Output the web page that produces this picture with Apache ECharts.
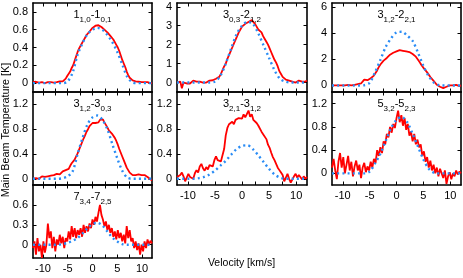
<!DOCTYPE html>
<html>
<head>
<meta charset="utf-8">
<script src="https://cdn.jsdelivr.net/npm/echarts@6/dist/echarts.min.js"></script>
<style>html,body{margin:0;padding:0;background:#fff}#c{width:463px;height:278px}</style>
</head>
<body>
<div id="c"></div>
<script>
// ---------- DATA ----------
const velocity = [-12,-11.7,-11.4,-11.1,-10.8,-10.5,-10.2,-9.9,-9.6,-9.3,-9,-8.7,-8.4,-8.1,-7.8,-7.5,-7.2,-6.9,-6.6,-6.3,-6,-5.7,-5.4,-5.1,-4.8,-4.5,-4.2,-3.9,-3.6,-3.3,-3,-2.7,-2.4,-2.1,-1.8,-1.5,-1.2,-0.9,-0.6,-0.3,0,0.3,0.6,0.9,1.2,1.5,1.8,2.1,2.4,2.7,3,3.3,3.6,3.9,4.2,4.5,4.8,5.1,5.4,5.7,6,6.3,6.6,6.9,7.2,7.5,7.8,8.1,8.4,8.7,9,9.3,9.6,9.9,10.2,10.5,10.8,11.1,11.4,11.7,12];
const modelVelocity = [-12,-11,-10,-9,-8,-7,-6,-5,-4,-3,-2,-1,0,1,2,3,4,5,6,7,8,9,10,11,12];

const obs_110_101 = [0.01,0.02,0.015,0.01,0.005,0.01,0.01,0.005,0.0,0.005,
 0.01,0.005,0.01,0.0,0.005,0.01,0.01,0.015,0.02,0.02,
 0.02,0.03,0.05,0.08,0.1,0.13,0.17,0.2,0.25,0.3,
 0.35,0.39,0.42,0.45,0.48,0.51,0.54,0.56,0.58,0.6,
 0.62,0.63,0.645,0.65,0.65,0.64,0.63,0.615,0.6,0.59,
 0.57,0.55,0.53,0.51,0.49,0.46,0.43,0.4,0.36,0.31,
 0.26,0.22,0.18,0.13,0.09,0.06,0.04,0.03,0.025,0.02,
 0.02,0.015,0.015,0.01,0.01,0.01,0.005,0.01,0.005,0.0,
 0.0];
const mod_110_101 = [0,0,0,0,0,0,0,0.02,0.12,0.32,0.45,0.55,0.6,0.62,0.6,0.54,0.46,0.35,0.21,0.07,0.01,0,0,0,0];

const obs_303_212 = [0.0,-0.1,0.05,-0.3,0.0,0.05,-0.05,0.0,-0.05,0.05,
 0.1,0.0,0.05,0.15,0.05,0.1,0.0,0.05,0.0,0.05,
 0.1,0.1,0.12,0.15,0.2,0.25,0.3,0.45,0.65,0.85,
 1.0,1.25,1.45,1.65,1.85,2.05,2.25,2.45,2.65,2.8,
 2.95,3.05,3.1,3.15,3.2,3.25,3.3,3.2,3.1,2.95,
 2.8,2.75,2.65,2.45,2.3,2.15,2.0,1.8,1.6,1.4,
 1.2,1.05,0.85,0.6,0.45,0.3,0.25,0.15,0.2,0.1,
 0.1,0.05,0.1,0.0,0.05,0.1,0.0,0.05,-0.05,0.05,
 0.1];
const mod_303_212 = [0,0,0,0,0,0,0,0.05,0.35,1.0,1.8,2.55,3.0,3.2,3.1,2.6,1.95,1.3,0.65,0.2,0.05,0,0,0,0];

const obs_312_221 = [0.0,0.05,0.0,0.05,0.0,-0.05,0.0,0.05,0.0,0.0,
 0.05,0.1,0.0,0.05,0.05,0.1,0.1,0.05,0.15,0.2,
 0.45,0.55,0.4,0.45,0.55,0.6,0.75,0.95,1.15,1.4,
 1.6,1.75,1.9,2.0,2.1,2.25,2.35,2.45,2.5,2.55,
 2.6,2.65,2.7,2.7,2.65,2.65,2.6,2.55,2.55,2.5,
 2.4,2.3,2.2,2.05,1.85,1.65,1.5,1.3,1.15,1.0,
 0.85,0.65,0.5,0.35,0.2,0.05,-0.05,-0.1,-0.15,-0.2,
 -0.15,-0.1,-0.05,0.0,-0.05,0.0,0.0,0.05,0.0,-0.05,
 0.0];
const mod_312_221 = [0,0,0,0,0,0,0.02,0.2,1.0,1.95,2.95,3.6,4.05,4.1,3.8,3.4,2.5,1.5,0.7,0.2,0.02,0,0,0,0];

const obs_312_303 = [0.0,0.02,0.01,0.03,0.0,0.02,0.04,0.02,0.03,0.01,
 0.04,0.03,0.05,0.04,0.06,0.05,0.08,0.1,0.07,0.09,
 0.12,0.1,0.14,0.17,0.16,0.21,0.25,0.27,0.31,0.36,
 0.41,0.47,0.53,0.59,0.65,0.7,0.76,0.8,0.85,0.88,
 0.9,0.92,0.9,0.93,0.91,0.95,0.98,0.96,0.91,0.87,
 0.83,0.78,0.75,0.73,0.7,0.66,0.61,0.55,0.48,0.42,
 0.36,0.3,0.24,0.18,0.14,0.1,0.07,0.06,0.04,0.06,
 0.05,0.07,0.05,0.06,0.08,0.06,0.05,0.03,0.02,-0.01,
 -0.03];
const mod_312_303 = [0,0,0,0,0,0,0.01,0.04,0.12,0.4,0.66,0.88,0.99,1.02,0.95,0.8,0.56,0.33,0.13,0.02,0,0,0,0,0];

const obs_321_312 = [0.03,0.0,0.06,0.1,0.04,-0.04,0.02,0.08,0.03,0.05,
 0.0,0.09,0.14,0.1,0.2,0.24,0.17,0.13,0.19,0.15,
 0.22,0.25,0.2,0.3,0.36,0.3,0.33,0.28,0.38,0.48,
 0.7,0.82,0.88,0.85,0.92,0.88,0.95,0.92,0.98,1.0,
 0.97,1.04,0.99,1.02,1.1,1.0,1.04,0.95,0.97,0.9,
 0.86,0.84,0.76,0.72,0.7,0.64,0.55,0.5,0.42,0.35,
 0.3,0.24,0.18,0.14,0.1,0.06,-0.04,0.02,0.08,0.0,
 -0.06,-0.09,0.04,0.08,0.02,0.06,0.03,-0.01,0.04,0.0,
 0.03];
const mod_321_312 = [0,0,0,0,0.01,0.03,0.07,0.13,0.21,0.29,0.39,0.48,0.53,0.54,0.48,0.38,0.27,0.16,0.07,0.02,0,0,0,0,0];

const obs_532_523 = [0.1,0.25,0.05,-0.1,0.2,0.35,0.1,0.28,0.0,0.15,
 0.3,0.05,0.2,-0.05,0.12,0.22,0.05,0.15,-0.08,0.1,
 0.18,0.02,0.12,0.05,0.2,0.1,0.25,0.18,0.4,0.3,
 0.45,0.35,0.55,0.5,0.68,0.62,0.8,0.7,0.85,0.78,
 0.95,1.08,0.88,1.0,0.82,0.95,0.75,0.85,0.65,0.72,
 0.55,0.68,0.5,0.58,0.45,0.5,0.3,0.38,0.2,0.28,
 0.1,0.22,0.05,0.15,0.0,0.1,-0.05,0.08,0.0,-0.08,
 0.05,-0.18,-0.05,0.02,-0.1,0.0,-0.05,0.05,-0.02,0.03,
 0.0];
const mod_532_523 = [0,0,0,0,0,0,0,0.03,0.17,0.34,0.56,0.78,0.92,0.97,0.88,0.68,0.46,0.24,0.08,0.01,0,0,0,0,0];

const obs_734_725 = [-0.05,0.05,-0.15,0.1,-0.1,0.0,-0.2,0.05,-0.12,0.0,
 0.32,0.1,0.2,-0.05,0.12,-0.1,0.08,0.0,0.15,0.02,
 0.12,-0.05,0.1,0.05,0.2,0.08,0.28,0.12,0.25,0.1,
 0.22,0.15,0.25,0.12,0.3,0.18,0.28,0.2,0.32,0.25,
 0.38,0.3,0.42,0.35,0.48,0.6,0.45,0.38,0.28,0.35,
 0.22,0.3,0.18,0.25,0.12,0.2,0.08,0.22,0.1,0.18,
 0.05,0.15,0.02,0.28,0.1,0.22,0.05,0.1,-0.05,0.05,
 -0.08,0.02,-0.15,0.0,-0.1,0.05,-0.05,0.08,0.0,0.06,
 0.02];
const mod_734_725 = [0,0,0,0,0,0,0.01,0.03,0.06,0.1,0.17,0.25,0.31,0.33,0.29,0.2,0.11,0.05,0.01,0,0,0,0,0,0];

// tick labels
const xTickLabels = [-10,-5,0,5,10];
const xTickMarks = [-10,-7.5,-5,-2.5,0,2.5,5,7.5,10];
const yLabels_110_101 = [0,0.2,0.4,0.6,0.8];
const yLabels_303_212 = [0,1,2,3,4];
const yLabels_312_221 = [0,2,4,6];
const yLabels_312_303 = [0,0.4,0.8,1.2];
const yLabels_321_312 = [0,0.4,0.8,1.2];
const yLabels_532_523 = [0,0.4,0.8,1.2];
const yLabels_734_725 = [0,0.3,0.6];

// transition labels: [upper, lowerSub, upper, lowerSub]
const title_110_101 = ['1','1,0','-1','0,1'];
const title_303_212 = ['3','0,3','-2','1,2'];
const title_312_221 = ['3','1,2','-2','2,1'];
const title_312_303 = ['3','1,2','-3','0,3'];
const title_321_312 = ['3','2,1','-3','1,2'];
const title_532_523 = ['5','3,2','-5','2,3'];
const title_734_725 = ['7','3,4','-7','2,5'];

const xTitle = 'Velocity [km/s]';
const yTitle = 'Main Beam Temperature [K]';

// ---------- LAYOUT ----------
const FONT = "'Liberation Sans', Arial, sans-serif";
const panels = [
  {t:title_110_101, o:obs_110_101, m:mod_110_101, y:[-0.1,0.9], yl:yLabels_110_101, box:[33,3,119,89], xl:false},
  {t:title_303_212, o:obs_303_212, m:mod_303_212, y:[-0.5,4.2], yl:yLabels_303_212, box:[177,3,130,89], xl:false},
  {t:title_312_221, o:obs_312_221, m:mod_312_221, y:[-0.5,6.3], yl:yLabels_312_221, box:[332,3,129,89], xl:false},
  {t:title_312_303, o:obs_312_303, m:mod_312_303, y:[-0.1,1.4], yl:yLabels_312_303, box:[33,92,119,93], xl:false},
  {t:title_321_312, o:obs_321_312, m:mod_321_312, y:[-0.1,1.4], yl:yLabels_321_312, box:[177,92,130,93], xl:true},
  {t:title_532_523, o:obs_532_523, m:mod_532_523, y:[-0.2,1.4], yl:yLabels_532_523, box:[332,92,129,93], xl:true},
  {t:title_734_725, o:obs_734_725, m:mod_734_725, y:[-0.2,0.9], yl:yLabels_734_725, box:[33,185,119,73], xl:true}
];

const grid=[], xAxis=[], yAxis=[], series=[], graphic=[];
const lineCol = '#000';
panels.forEach((p, i) => {
  const [l,t,w,h] = p.box;
  grid.push({left:l, top:t, width:w, height:h, show:false, containLabel:false});
  const xb = {type:'value', gridIndex:i, min:-12, max:12, splitLine:{show:false},
    axisLine:{show:true, onZero:false, lineStyle:{color:lineCol, width:1.6}},
    axisTick:{show:true, inside:true, length:3.5, customValues:xTickMarks, lineStyle:{color:lineCol, width:1}}};
  xAxis.push(Object.assign({}, xb, {position:'bottom',
    axisLabel:{show:p.xl, customValues:xTickLabels, margin:5, color:'#000', fontSize:11, fontFamily:FONT}}));
  xAxis.push(Object.assign({}, xb, {position:'top', axisLabel:{show:false}}));
  const yb = {type:'value', gridIndex:i, min:p.y[0], max:p.y[1], splitLine:{show:false},
    axisLine:{show:true, onZero:false, lineStyle:{color:lineCol, width:1.6}},
    axisTick:{show:true, inside:true, length:3.5, customValues:p.yl, lineStyle:{color:lineCol, width:1}}};
  yAxis.push(Object.assign({}, yb, {position:'left',
    axisLabel:{show:true, customValues:p.yl, margin:5, color:'#000', fontSize:11, fontFamily:FONT}}));
  yAxis.push(Object.assign({}, yb, {position:'right', axisLabel:{show:false}}));
  series.push({type:'line', xAxisIndex:2*i, yAxisIndex:2*i, showSymbol:false, animation:false,
    data: velocity.map((v,k)=>[v,p.o[k]]), lineStyle:{color:'#ff0000', width:1.8}, z:2});
  series.push({type:'line', xAxisIndex:2*i, yAxisIndex:2*i, showSymbol:false, animation:false, smooth:0.3,
    data: modelVelocity.map((v,k)=>[v,p.m[k]]), lineStyle:{color:'#2a8cf5', width:2.4, type:[2,3.2]}, z:3});
  graphic.push({type:'text', x:l+w/2, y:t+6, z:10, style:{
    text:'{m|'+p.t[0]+'}{s|'+p.t[1]+'}{m|'+p.t[2]+'}{s|'+p.t[3]+'}',
    align:'center', verticalAlign:'top',
    rich:{
      m:{fontSize:11, fontFamily:FONT, fill:'#000', lineHeight:15, verticalAlign:'top'},
      s:{fontSize:8, fontFamily:FONT, fill:'#000', lineHeight:8, verticalAlign:'bottom'}
    }}});
});
graphic.push({type:'text', x:241.5, y:263, style:{text:xTitle, align:'center', verticalAlign:'middle', fontSize:10.5, fontFamily:FONT, fill:'#000'}});
graphic.push({type:'text', x:6, y:130, rotation:Math.PI/2, style:{text:yTitle, align:'center', verticalAlign:'middle', fontSize:10.8, fontFamily:FONT, fill:'#000'}});

const chart = echarts.init(document.getElementById('c'), null, {renderer:'canvas'});
chart.setOption({animation:false, grid, xAxis, yAxis, series, graphic});
</script>
</body>
</html>
